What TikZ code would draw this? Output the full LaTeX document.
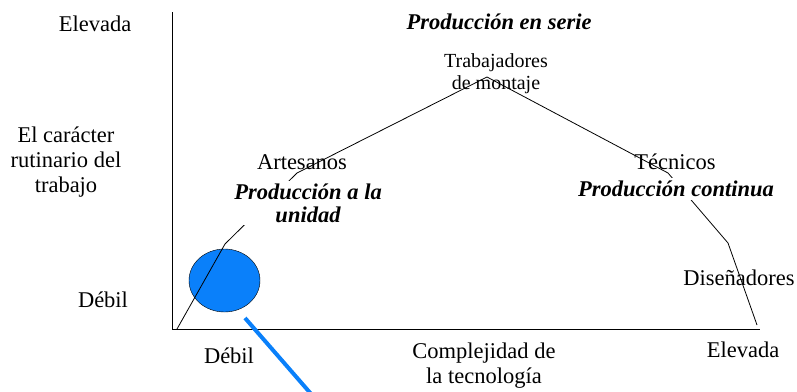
\documentclass[tikz,border=0pt]{standalone}
\usepackage{fontspec}
\setmainfont{Liberation Serif}
\usetikzlibrary{shapes.geometric}

\definecolor{spotblue}{RGB}{10,128,250}

\begin{document}
\begin{tikzpicture}[x=1pt,y=-1pt,font=\fontsize{22.5}{25}\selectfont,
   txt/.style={align=center,inner sep=1pt},
   prod/.style={align=center,fill=white,inner sep=3pt,
     font=\fontsize{22.5}{23}\selectfont\bfseries\itshape},
   spot/.style={ellipse,draw,fill=spotblue,minimum width=71pt,minimum height=63pt}]
   \useasboundingbox (0,0) rectangle (797,391);
   % axes
   \coordinate (o)    at (172,329);
   \coordinate (ytop) at (172,12);
   \coordinate (xend) at (760,329);
   \draw[line width=1pt] (ytop) -- (o) -- (xend);
   \node[spot] (s) at (224.5,280.5) {};
   % curve
   \coordinate (c_0) at (177,329);
   \coordinate (c_1) at (225,244);
   \coordinate (c_2) at (297,173);
   \coordinate (c_3) at (487,77);
   \coordinate (c_4) at (668,173);
   \coordinate (c_5) at (728,243);
   \coordinate (c_6) at (757,325);
   \draw[line width=0.8pt] (c_0) -- (c_1) -- (c_2) -- (c_3) -- (c_4) -- (c_5) -- (c_6);
   % labels
   \node[txt] (y_hi)  at (95,24)   {Elevada};
   \node[txt] (y_lab) at (66,162)  {El carácter\\rutinario del\\trabajo};
   \node[txt] (y_lo)  at (103,300) {Débil};
   \node[txt] (x_lo)  at (229,356) {Débil};
   \node[txt] (x_lab) at (484,366) {Complejidad de\\la tecnología};
   \node[txt] (x_hi)  at (743,350) {Elevada};
   \node[prod] (serie) at (499,22) {Producción en serie};
   \node[txt,font=\fontsize{20}{22}\selectfont] (montaje) at (496,74) {Trabajadores\\de montaje};
   \node[txt] (art)  at (302,162) {Artesanos};
   \node[prod] (unidad) at (308,203) {Producción a la\\unidad};
   \node[txt] (tec)  at (675,162) {Técnicos};
   \node[prod] (cont) at (676,189) {Producción continua};
   \node[txt] (dis)  at (739,278) {Diseñadores};
   % pointer
   \coordinate (b_0) at (245,318);
   \coordinate (b_1) at (312,395);
   \draw[spotblue,line width=4pt] (b_0) -- (b_1);
\end{tikzpicture}
\end{document}
